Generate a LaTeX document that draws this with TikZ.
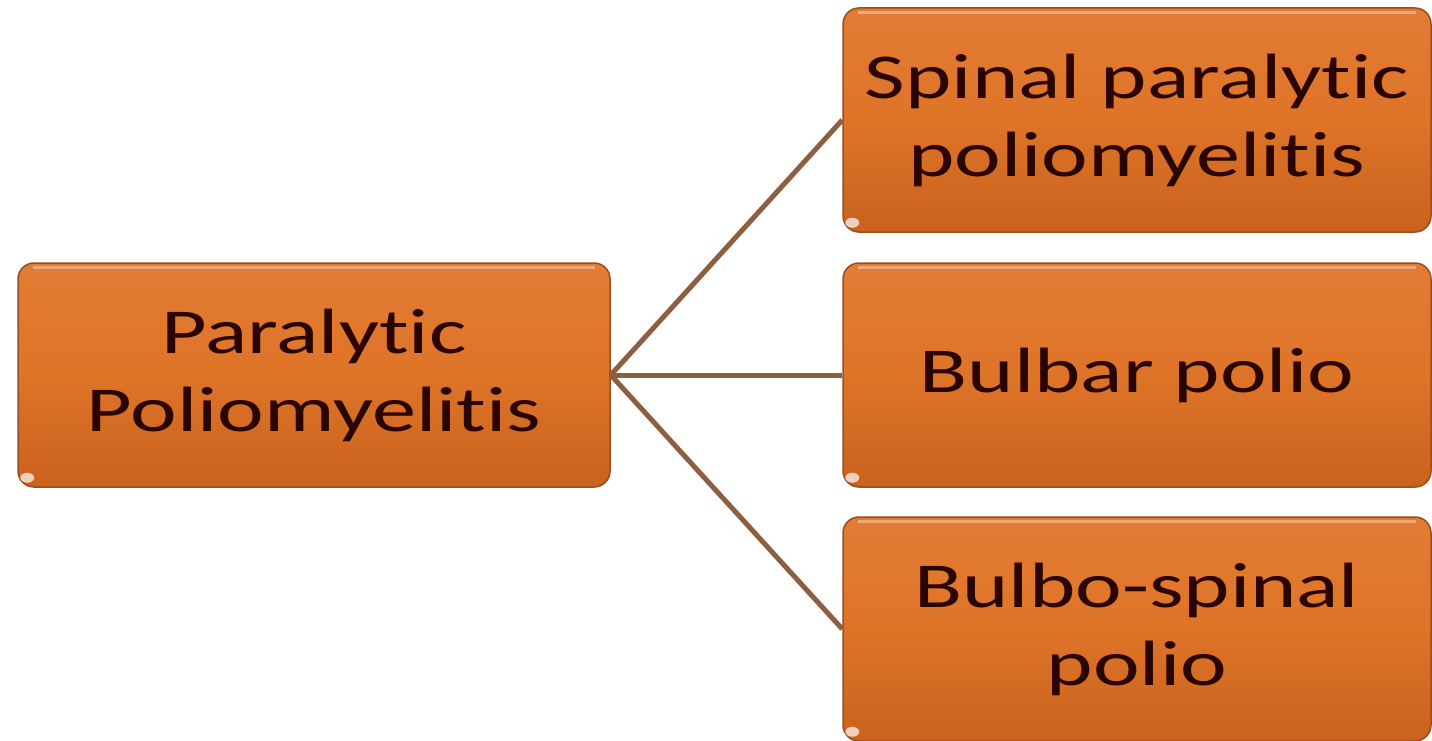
\documentclass[tikz,border=0pt]{standalone}
\usepackage{fontspec}
\setmainfont[Ligatures={NoCommon}]{Carlito}
\definecolor{boxtop}{HTML}{E27C34}
\definecolor{boxmid}{HTML}{DE7428}
\definecolor{boxbot}{HTML}{C9621E}
\definecolor{boxedge}{HTML}{9A4E1C}
\definecolor{txt}{HTML}{2A0500}
\definecolor{conn}{HTML}{8E5E40}
\newcommand{\wide}[1]{\scalebox{1.38}[1]{#1}}
\begin{document}
\begin{tikzpicture}[x=1pt,y=-1pt,
  box/.style={draw=boxedge, line width=1.5pt, rounded corners=16pt,
    top color=boxtop, bottom color=boxbot, middle color=boxmid,
    minimum width=588pt, minimum height=224pt,
    text=txt, align=center, inner sep=0pt,
    font=\fontsize{64}{78}\selectfont},
  link/.style={draw=conn, line width=5pt},
  glint/.style={fill=white, fill opacity=0.7, draw=none}]
\useasboundingbox (0,0) rectangle (1432,741);
\node[box, minimum width=592pt] (root) at (314,375) {\wide{Paralytic}\\\wide{Poliomyelitis}};
\node[box] (a) at (1137,120) {\wide{Spinal paralytic}\\\wide{poliomyelitis}};
\node[box] (b) at (1137,375) {\wide{Bulbar polio}};
\node[box] (c) at (1137,629) {\wide{Bulbo-spinal}\\\wide{polio}};
\foreach \n in {root,a,b,c}{
  \fill[glint] ([xshift=10pt,yshift=10pt]\n.south west) ellipse (7pt and 5pt);
  \draw[white, opacity=0.35, line width=3pt] ([xshift=16pt,yshift=-5pt]\n.north west) -- ([xshift=-16pt,yshift=-5pt]\n.north east);
}
\draw[link] (root.east) -- (a.west);
\draw[link] (root.east) -- (b.west);
\draw[link] (root.east) -- (c.west);
\end{tikzpicture}
\end{document}
